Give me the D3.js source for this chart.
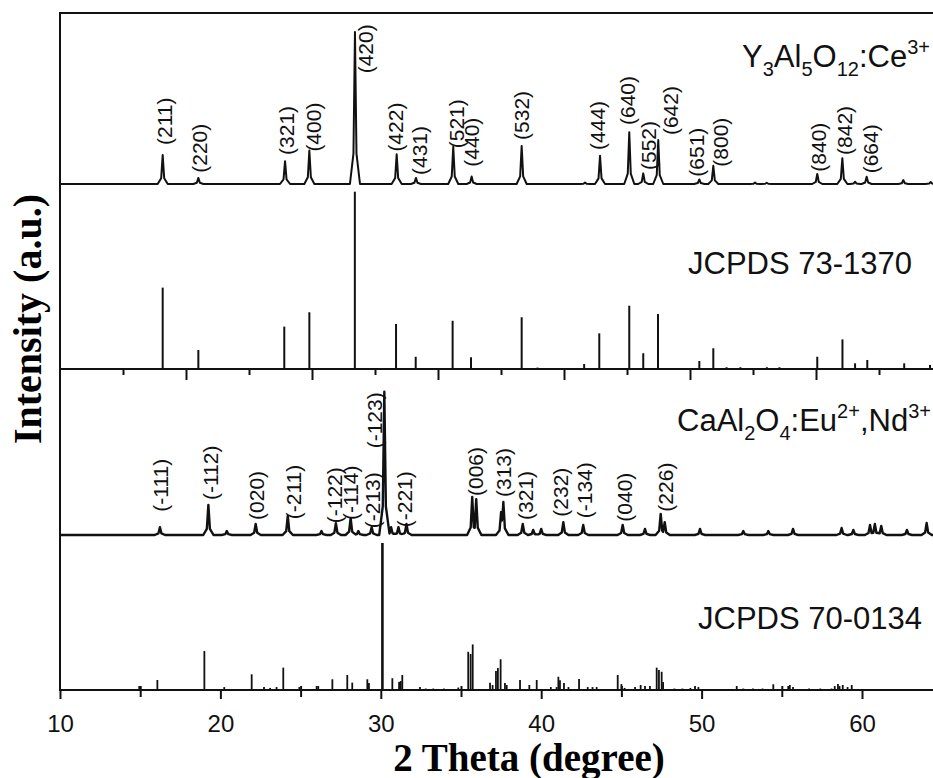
<!DOCTYPE html>
<html>
<head>
<meta charset="utf-8">
<script src="https://cdn.jsdelivr.net/npm/d3@7"></script>
<style>
  body { margin: 0; background: #fff; }
  svg { display: block; }
  .hkl { font-family: "Liberation Sans", Arial, sans-serif; font-size: 21px; fill: #111; }
  .title { font-family: "Liberation Sans", Arial, sans-serif; font-size: 31px; fill: #111; }
  .tick text { font-family: "Liberation Sans", Arial, sans-serif; font-size: 24px; fill: #111; }
  .axis-title { font-family: "Liberation Serif", "Times New Roman", serif; font-weight: bold; font-size: 39px; fill: #000; }
</style>
</head>
<body>
<div id="chart-area"></div>
<script>
// XRD patterns: Y3Al5O12:Ce3+ / CaAl2O4:Eu2+,Nd3+ with reference cards

const WIDTH = 933
const HEIGHT = 778

// upper two panels were plotted on a 10-80 scale, lower two on 10-65
const TOP_DOMAIN = [10, 80]
const BOTTOM_DOMAIN = [10, 60]

// [2theta, relative intensity]
const yagPeaks = [
  [18.15, 19], [20.98, 4], [27.86, 15], [29.79, 22], [33.41, 100], [36.72, 19.5],
  [38.25, 4], [41.21, 24.5], [42.67, 5], [46.64, 25], [51.67, 1], [52.86, 18.6],
  [55.18, 34], [56.29, 7], [57.48, 29], [60.74, 3], [61.85, 12], [65.16, 1],
  [66.09, 0.8], [70.10, 6.6], [72.09, 17], [73.10, 1.5], [74.02, 4.8], [76.93, 2.6], [79.1, 1.3]
]
// [hkl, 2theta, intensity where the label starts]
const yagLabels = [
  ["(211)", 18.27, 25.7], ["(220)", 21.1, 7.4], ["(321)", 27.96, 19.1], ["(400)", 30.1, 21.3],
  ["(420)", 34.23, 72.8], ["(422)", 36.6, 21.3], ["(431)", 38.55, 5.9], ["(521)", 41.48, 23.5],
  ["(440)", 42.62, 11.4], ["(532)", 46.64, 29], ["(444)", 52.66, 22.4], ["(640)", 55.04, 38.8],
  ["(552)", 56.7, 9.2], ["(642)", 58.41, 32.2], ["(651)", 60.5, 4.8], ["(800)", 62.44, 11.4],
  ["(840)", 70.18, 8.1], ["(842)", 72.24, 19.1], ["(664)", 74.35, 7]
]

const jcpds73 = [
  [18.15, 45.9], [20.98, 10.7], [27.8, 23.9], [29.79, 32], [33.4, 100], [36.67, 25.4],
  [38.23, 6.9], [41.16, 27.2], [42.62, 6.6], [46.64, 29.2], [47.9, 0.8], [51.6, 2.8],
  [52.8, 20.1], [55.18, 35.7], [56.29, 8.9], [57.46, 31], [60.74, 4.5], [61.85, 11.7],
  [62.9, 1], [64.0, 1], [66.1, 1], [67.1, 1], [70.1, 6.9], [72.1, 16.7], [73.1, 3.2],
  [74.07, 5.1], [77.0, 3.2], [79.05, 2.3]
]

const caPeaks = [
  [16.23, 5.4], [19.25, 21], [20.4, 2.8], [22.2, 7.7], [24.2, 13.3], [26.3, 2.8],
  [27.2, 8.2], [28.12, 11.7], [28.6, 2.8], [29.43, 5.4], [30.22, 100], [30.64, 5.5],
  [31.1, 5.5], [31.6, 7.7], [35.7, 26.5], [35.95, 25], [37.5, 16], [37.64, 23],
  [38.85, 7.7], [39.5, 3.5], [40.0, 4.2], [41.38, 9], [42.62, 7], [45.08, 7],
  [46.47, 4.2], [47.45, 14.7], [47.7, 9], [49.9, 4.2], [52.6, 2.8], [54.16, 2.8],
  [55.7, 4.2], [58.73, 4.9], [59.46, 3.5], [60.5, 7], [60.8, 7.7], [61.2, 6.3],
  [62.8, 3.5], [64.03, 8.4]
]
const caLabels = [
  ["(-111)", 16.29, 16.3], ["(-112)", 19.35, 24.4], ["(020)", 22.26, 10.5], ["(-211)", 24.56, 11],
  ["(-122)", 27.14, 8.2], ["(-114)", 28.08, 10.5], ["(-213)", 29.48, 4.7], ["(-123)", 29.59, 60.5],
  ["(-221)", 31.45, 5.4], ["(006)", 35.87, 27.2], ["(313)", 37.62, 26.5], ["(321)", 38.99, 10.5],
  ["(232)", 41.17, 12.8], ["(-134)", 42.67, 11.7], ["(040)", 45.22, 9.3], ["(226)", 47.77, 16.3]
]

const jcpds70 = [
  [11.7, 0.7], [12.4, 0.4], [14.94, 2.7], [16.07, 6.8], [19.0, 26.5], [20.24, 2],
  [21.95, 10.7], [22.72, 2], [23.1, 1.4], [23.5, 2], [23.92, 15.2], [24.28, 0.7],
  [24.92, 2], [26.0, 2.7], [26.1, 2.7], [26.98, 7.3], [27.91, 10.2], [28.22, 5],
  [29.16, 7.3], [29.26, 4.8], [30.1, 100], [30.72, 8], [31.14, 5.4], [31.24, 6.1],
  [31.34, 10.2], [32.44, 2], [32.8, 1], [33.27, 1], [33.93, 1], [34.83, 1.7],
  [35.45, 26], [35.6, 24.5], [35.73, 31], [36.81, 5], [36.97, 3.4], [37.18, 13],
  [37.3, 15], [37.47, 20.9], [37.74, 4.8], [37.85, 3.4], [38.68, 6.8], [39.26, 3.4],
  [39.72, 6.8], [40.6, 2], [40.96, 2], [41.07, 9], [41.17, 6.6], [41.42, 4.8],
  [41.7, 2], [42.36, 7.5], [42.9, 2], [43.2, 2], [43.46, 2], [44.77, 10.2],
  [45.0, 4], [45.2, 1.4], [45.85, 2], [46.2, 3.4], [46.47, 2.7], [46.78, 2.7],
  [47.2, 15.2], [47.34, 13.6], [47.51, 12.4], [47.6, 5.4], [48.3, 1], [48.8, 1],
  [49.3, 1.4], [49.59, 2.7], [49.8, 2], [50.5, 0.7], [51.2, 0.7], [52.19, 2.7],
  [52.6, 1], [53.2, 1], [53.8, 1], [54.47, 3.9], [55.4, 2.7], [55.5, 3.4],
  [55.7, 2], [56.7, 1], [57.4, 1], [58.1, 1], [58.3, 2.7], [58.5, 4], [58.6, 2.7],
  [58.8, 3.4], [59.1, 2], [59.36, 3.4]
]

const topTicks = [20, 30, 40, 50, 60, 70]
const topMinor = [15, 25, 35, 45, 55, 65, 75]
const bottomTicks = [10, 20, 30, 40, 50, 60]
const bottomMinor = [15, 25, 35, 45, 55, 65]

const svg = d3.select("#chart-area").append("svg")
  .attr("width", WIDTH)
  .attr("height", HEIGHT)

// scales
const xTop = d3.scaleLinear().domain(TOP_DOMAIN).range([60, 942])
const xBot = d3.scaleLinear().domain(BOTTOM_DOMAIN).range([60, 862])
const y1 = d3.scaleLinear().domain([0, 100]).range([184, 32])
const y2 = d3.scaleLinear().domain([0, 100]).range([369, 191.7])
const y3 = d3.scaleLinear().domain([0, 100]).range([535, 391.7])
const y4 = d3.scaleLinear().domain([0, 100]).range([690, 543])

// continuous pattern = upper envelope of sharp peaks on a flat background
const shape = [[-1, 0], [-0.3, 0.2], [0, 1], [0.3, 0.2], [1, 0]]
function profile(peaks, w, domain) {
  let xs = [domain[0], domain[1]]
  peaks.forEach(p => shape.forEach(s => xs.push(p[0] + s[0] * w)))
  xs = xs.filter(x => x >= domain[0] && x <= domain[1]).sort((a, b) => a - b)
  return xs.map(x => {
    let v = 0
    peaks.forEach(p => {
      const u = (x - p[0]) / w
      if (u <= -1 || u >= 1) return
      for (let i = 0; i < shape.length - 1; i++) {
        if (u >= shape[i][0] && u <= shape[i + 1][0]) {
          const t = (u - shape[i][0]) / (shape[i + 1][0] - shape[i][0])
          v = Math.max(v, p[1] * (shape[i][1] + t * (shape[i + 1][1] - shape[i][1])))
        }
      }
    })
    return [x, v]
  })
}

svg.append("clipPath").attr("id", "plot-clip")
  .append("rect").attr("x", 60).attr("y", 13).attr("width", 900).attr("height", 680)

const plot = svg.append("g").attr("clip-path", "url(#plot-clip)")

// Y3Al5O12:Ce3+ pattern
plot.append("path")
  .attr("fill", "none")
  .attr("stroke", "#111")
  .attr("stroke-width", 2)
  .attr("stroke-linejoin", "round")
  .attr("d", d3.line().x(d => xTop(d[0])).y(d => y1(d[1]))(profile(yagPeaks, 0.4, TOP_DOMAIN)))

// CaAl2O4 pattern
plot.append("path")
  .attr("fill", "none")
  .attr("stroke", "#111")
  .attr("stroke-width", 2.4)
  .attr("stroke-linejoin", "round")
  .attr("d", d3.line().x(d => xBot(d[0])).y(d => y3(d[1]))(profile(caPeaks, 0.32, [10, 65])))

// reference sticks
plot.selectAll(".stick73").data(jcpds73).enter().append("line")
  .attr("class", "stick73")
  .attr("x1", d => xTop(d[0])).attr("x2", d => xTop(d[0]))
  .attr("y1", y2(0)).attr("y2", d => y2(d[1]))
  .attr("stroke", "#111").attr("stroke-width", 2)

plot.selectAll(".stick70").data(jcpds70).enter().append("line")
  .attr("class", "stick70")
  .attr("x1", d => xBot(d[0])).attr("x2", d => xBot(d[0]))
  .attr("y1", y4(0)).attr("y2", d => y4(d[1]))
  .attr("stroke", "#111").attr("stroke-width", d => d[1] > 50 ? 2.6 : 1.8)

// hkl labels
function hkl(labels, x, y) {
  svg.append("g").selectAll("text").data(labels).enter().append("text")
    .attr("class", "hkl")
    .attr("transform", d => `translate(${x(d[1])}, ${y(d[2])}) rotate(-90)`)
    .attr("dy", "0.36em")
    .attr("text-anchor", "start")
    .text(d => d[0])
}
hkl(yagLabels, xTop, y1)
hkl(caLabels, xBot, y3)

// frame
const frame = svg.append("g").attr("stroke", "#111").attr("stroke-width", 2).attr("fill", "none")
frame.append("line").attr("x1", 60).attr("x2", WIDTH).attr("y1", 13).attr("y2", 13)
frame.append("line").attr("x1", 60).attr("x2", 60).attr("y1", 12).attr("y2", 691)

// divider with the 10-80 ticks
const midAxis = svg.append("g").attr("transform", `translate(0, ${y2(0)})`)
midAxis.call(d3.axisBottom(xTop).tickValues(topTicks).tickSize(11).tickFormat(""))
midAxis.append("g").call(d3.axisBottom(xTop).tickValues(topMinor).tickSize(6).tickFormat(""))
midAxis.selectAll(".domain").remove()
midAxis.append("line").attr("x1", 60).attr("x2", WIDTH).attr("stroke", "#111").attr("stroke-width", 2)

// bottom axis
const xAxis = svg.append("g").attr("transform", "translate(0, 690)")
xAxis.call(d3.axisBottom(xBot).tickValues(bottomTicks).tickSize(9).tickPadding(16).tickFormat(d3.format("d")))
const minor = xAxis.append("g").call(d3.axisBottom(xBot).tickValues(bottomMinor).tickSize(7).tickFormat(""))
minor.selectAll(".tick line").attr("y1", -4)
xAxis.selectAll(".domain").remove()
xAxis.selectAll(".tick line").attr("stroke", "#111").attr("stroke-width", 2)
midAxis.selectAll(".tick line").attr("stroke", "#111").attr("stroke-width", 2)
xAxis.append("line").attr("x1", 60).attr("x2", WIDTH).attr("stroke", "#111").attr("stroke-width", 2)
xAxis.selectAll(".tick text").attr("fill", "#111")

// panel titles
function title(x, y, parts) {
  const t = svg.append("text").attr("class", "title").attr("x", x).attr("y", y)
  let shift = 0
  parts.forEach(p => {
    const off = p[1] === "sub" ? 9 : p[1] === "sup" ? -13 : 0
    t.append("tspan")
      .attr("dy", off - shift)
      .style("font-size", p[1] ? "20px" : null)
      .text(p[0])
    shift = off
  })
}
title(742, 67, [["Y"], ["3", "sub"], ["Al"], ["5", "sub"], ["O"], ["12", "sub"], [":Ce"], ["3+", "sup"]])
title(688, 274, [["JCPDS 73-1370"]])
title(677, 431, [["CaAl"], ["2", "sub"], ["O"], ["4", "sub"], [":Eu"], ["2+", "sup"], [",Nd"], ["3+", "sup"]])
title(698, 629, [["JCPDS 70-0134"]])

// axis titles
svg.append("text")
  .attr("class", "axis-title")
  .attr("x", 529).attr("y", 771)
  .attr("text-anchor", "middle")
  .text("2 Theta (degree)")

svg.append("text")
  .attr("class", "axis-title")
  .attr("transform", "translate(41, 319) rotate(-90)")
  .attr("text-anchor", "middle")
  .style("font-size", "40px")
  .text("Intensity (a.u.)")
</script>
</body>
</html>
